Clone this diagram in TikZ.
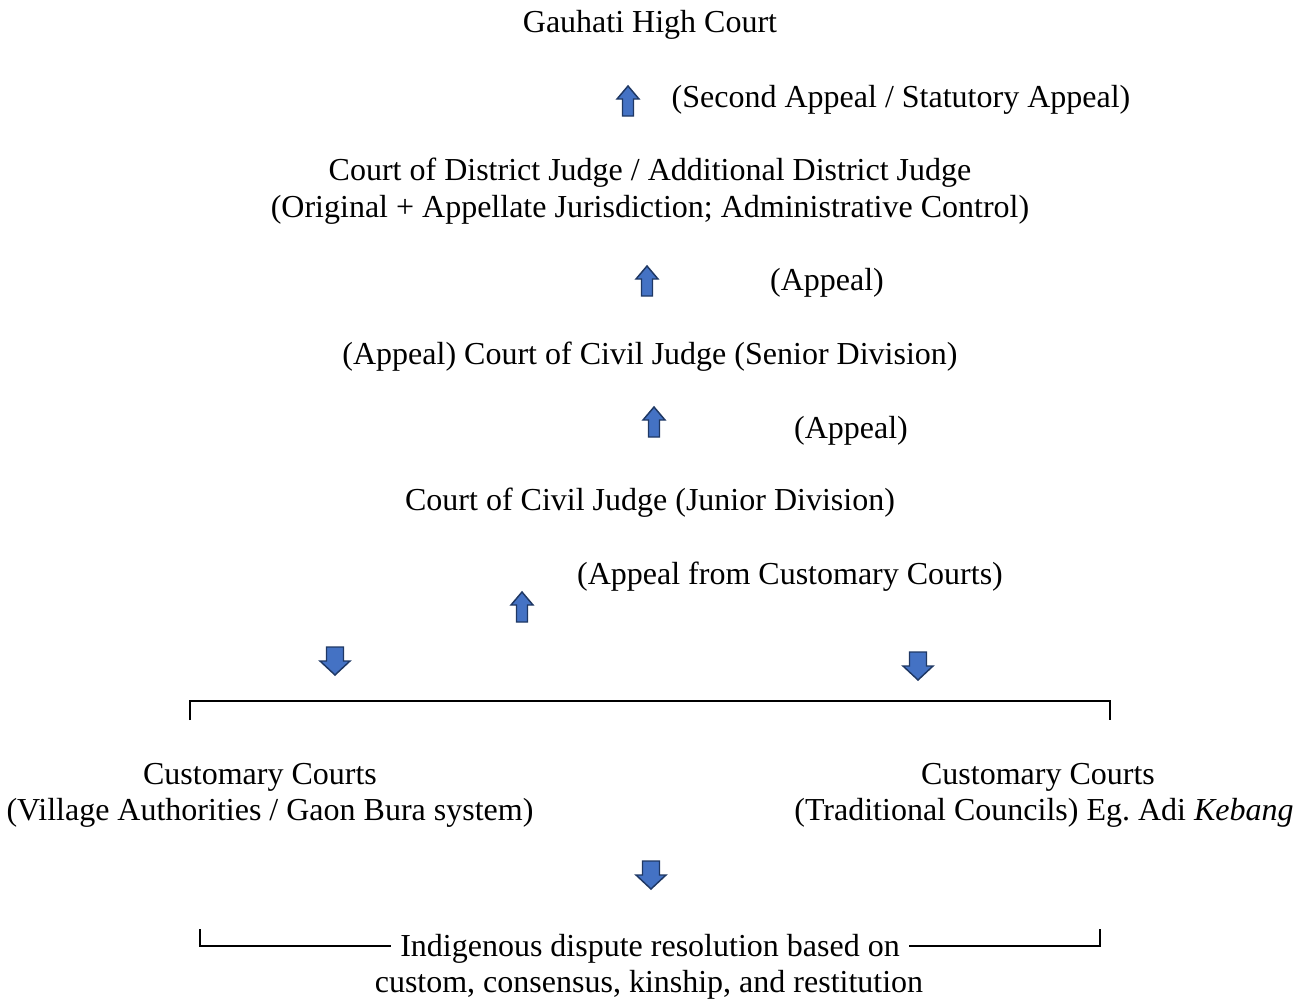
\documentclass[tikz,border=0pt]{standalone}
\usepackage{fontspec}
\setmainfont{Liberation Serif}
\frenchspacing

\definecolor{arrowfill}{HTML}{4472C4}
\definecolor{arrowline}{HTML}{1F3864}

\tikzset{
    court/.style={inner sep=0pt, anchor=center},
    blockarrow/.style={draw=arrowline, fill=arrowfill, line width=1.1pt, line join=miter},
    uparr/.pic={\path[blockarrow] (-5.5,15) -- (-5.5,-2) -- (-11,-2) -- (0,-15)
        -- (11,-2) -- (5.5,-2) -- (5.5,15) -- cycle;},
    downarr/.pic={\path[blockarrow] (-8.5,-14) -- (-8.5,0) -- (-15,0) -- (0,14)
        -- (15,0) -- (8.5,0) -- (8.5,-14) -- cycle;},
    bracket/.style={line width=2pt},
}

\begin{document}
\begin{tikzpicture}[x=0.75pt, y=-0.75pt, font=\fontsize{24}{27.75}\selectfont]
    \useasboundingbox (0,0) rectangle (1306,999);

    % high court and district court
    \node[court] (ghc) at (650,25) {Gauhati High Court};
    \pic (a1) at (628,101) {uparr};
    \node[court] (l1) at (901,100) {(Second Appeal / Statutory Appeal)};
    \node[court] (dj1) at (650,173) {Court of District Judge / Additional District Judge};
    \node[court] (dj2) at (650,210) {(Original + Appellate Jurisdiction; Administrative Control)};

    % civil judges
    \pic (a2) at (647,281) {uparr};
    \node[court] (l2) at (827,283) {(Appeal)};
    \node[court] (sd) at (650,357) {(Appeal) Court of Civil Judge (Senior Division)};
    \pic (a3) at (654,422) {uparr};
    \node[court] (l3) at (851,431) {(Appeal)};
    \node[court] (jd) at (650,503) {Court of Civil Judge (Junior Division)};

    % customary courts
    \node[court] (l4) at (790,577) {(Appeal from Customary Courts)};
    \pic (a4) at (522,607) {uparr};
    \pic (a5) at (335,661) {downarr};
    \pic (a6) at (918,666) {downarr};

    \coordinate (brl) at (190,720);
    \coordinate (brtl) at (190,701);
    \coordinate (brtr) at (1110,701);
    \coordinate (brr) at (1110,720);
    \draw[bracket] (brl) -- (brtl) -- (brtr) -- (brr);

    \node[court] (cl1) at (260,777) {Customary Courts};
    \node[court] (cl2) at (270,813) {(Village Authorities / Gaon Bura system)};
    \node[court] (cr1) at (1038,777) {Customary Courts};
    \node[court] (cr2) at (1044,813) {(Traditional Councils) Eg. Adi \textit{Kebang}};

    % indigenous resolution
    \pic (a7) at (651,875) {downarr};
    \node[court, inner xsep=7pt] (ind1) at (650,949) {Indigenous dispute resolution based on};
    \node[court] (ind2) at (649,985) {custom, consensus, kinship, and restitution};
    \coordinate (bl) at (200,929);
    \coordinate (br) at (1100,929);
    \draw[bracket] ([yshift=2.25pt]ind1.west) -| (bl);
    \draw[bracket] ([yshift=2.25pt]ind1.east) -| (br);
\end{tikzpicture}
\end{document}
